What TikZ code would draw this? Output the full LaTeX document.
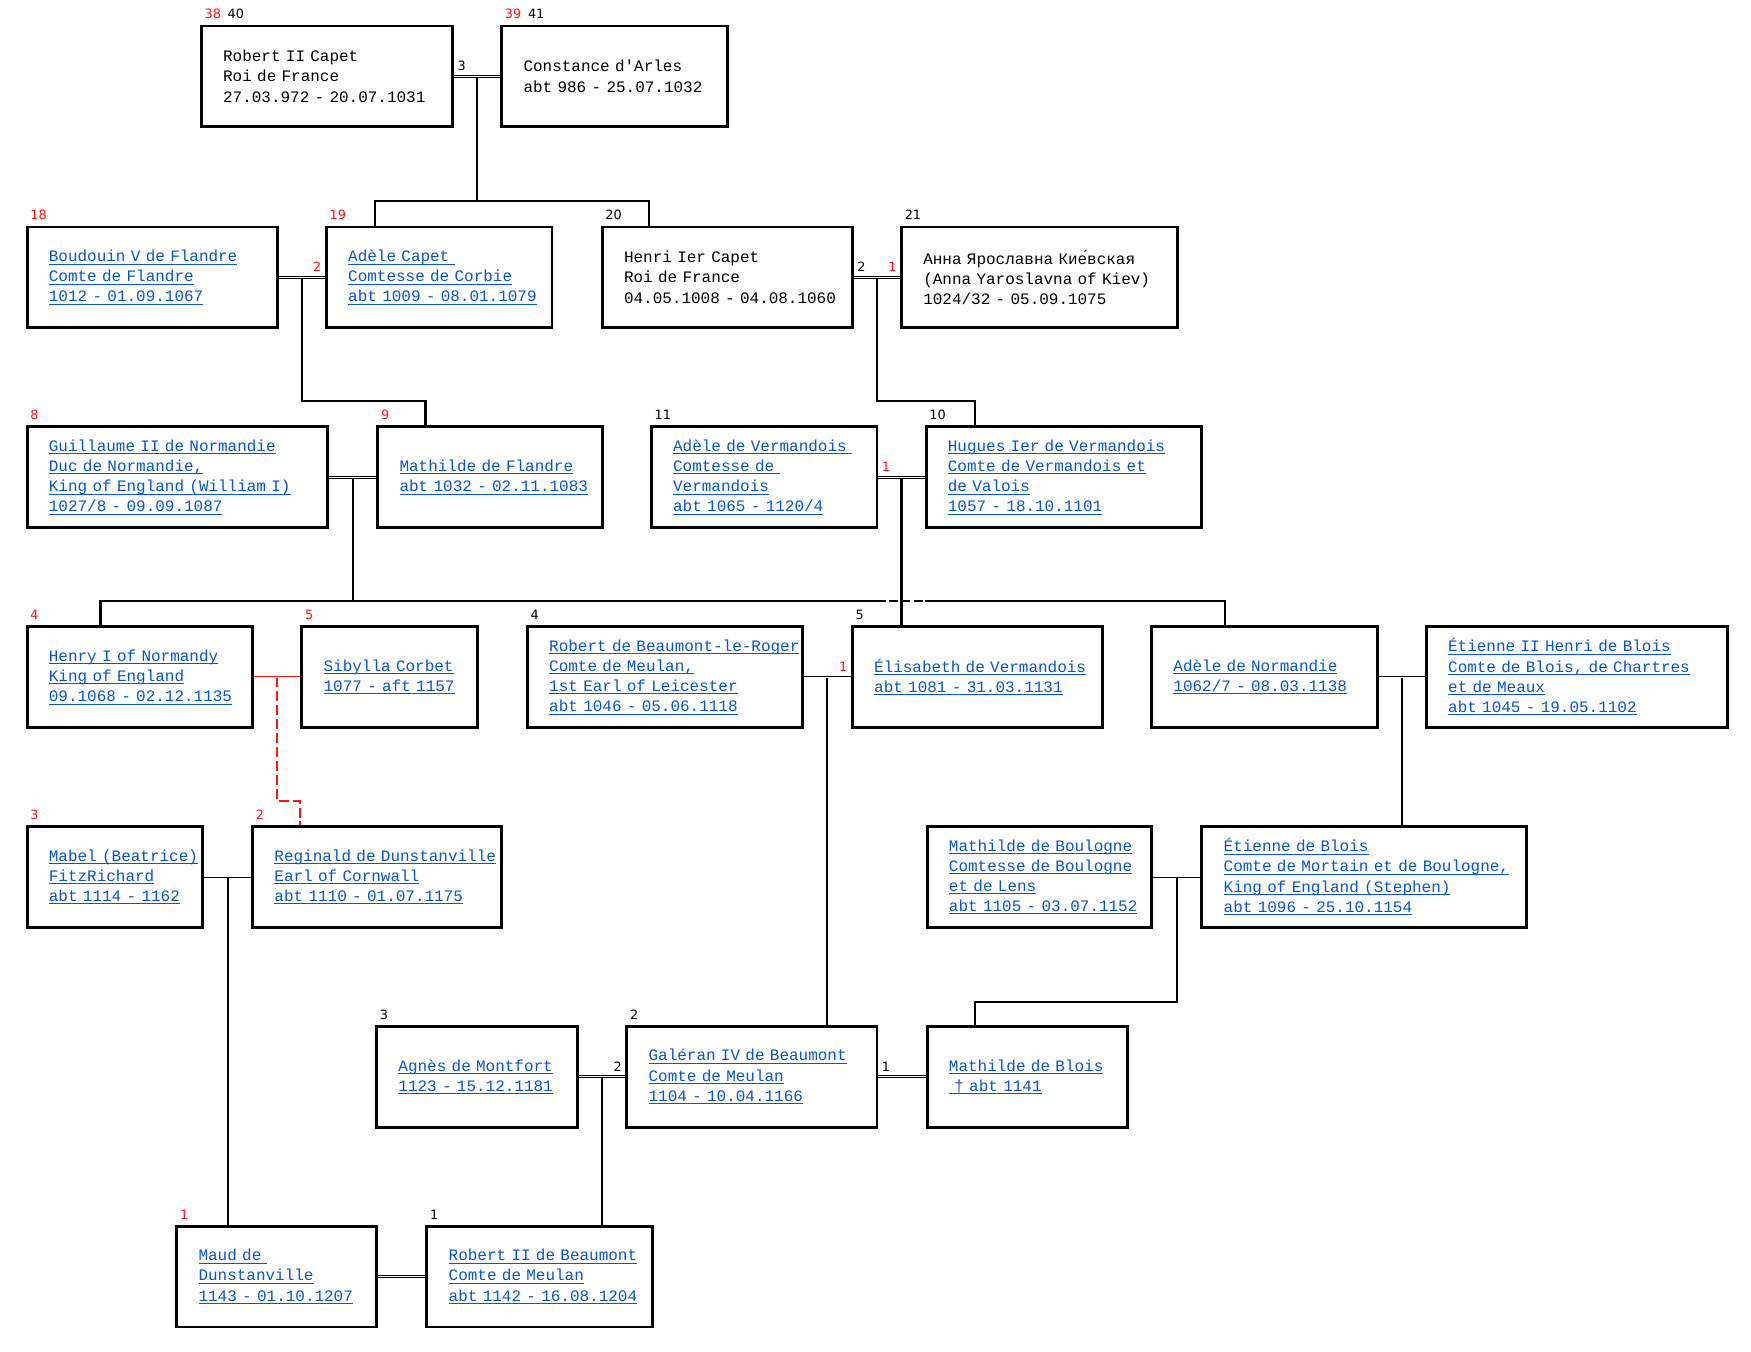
\documentclass[tikz,border=0pt]{standalone}
\usepackage{fontspec}
\usepackage{xcolor}
\usetikzlibrary{calc}
\newfontfamily\boxfont{Liberation Mono}
\newfontfamily\numfont{DejaVu Sans}
\definecolor{linkblue}{RGB}{10,85,200}
\definecolor{numred}{RGB}{255,20,20}
\newlength\lkwd
% underlined link line, kept on one line
\newcommand\lk[1]{\mbox{\settowidth\lkwd{#1}\rlap{\rule[-2.8pt]{\lkwd}{0.9pt}}#1}}
% plain line, kept on one line
\newcommand\pl[1]{\mbox{#1}}

\begin{document}
\begin{tikzpicture}[x=1pt,y=-1pt,
    pbox/.style={draw,line width=2.6pt,anchor=north west,minimum height=90pt,
      inner xsep=19.5pt,inner ysep=0pt,align=left,
      font=\boxfont\fontsize{14.3}{18}\selectfont},
    lbox/.style={pbox,text=linkblue},
    wed/.style={double,double distance=0.9pt,line width=0.8pt},
    kid/.style={line width=1.9pt},
    num/.style={inner sep=0pt,font=\numfont\fontsize{11.5}{13}\selectfont}]
  \useasboundingbox[fill=white] (0,0) rectangle (1568,1210);

  % generation 1
  \node[pbox,text width=186pt] (robert) at (179,22) {\pl{Robert II Capet}\\\pl{Roi de France}\\\pl{27.03.972 - 20.07.1031}};
  \node[pbox,text width=163pt] (constance) at (448,22) {\pl{Constance d'Arles}\\\pl{abt 986 - 25.07.1032}};
  % generation 2
  \node[lbox,text width=185pt] (boudouin) at (23,202) {\lk{Boudouin V de Flandre}\\\lk{Comte de Flandre}\\\lk{1012 - 01.09.1067}};
  \node[lbox,text width=163pt] (adelecap) at (291,202) {\lk{Adèle Capet\ }\\\lk{Comtesse de Corbie}\\\lk{abt 1009 - 08.01.1079}};
  \node[pbox,text width=185pt] (henri) at (538,202) {\pl{Henri Ier Capet}\\\pl{Roi de France}\\\pl{04.05.1008 - 04.08.1060}};
  \node[pbox,text width=208pt] (anna) at (806,202) {\pl{Анна Ярославна Кие́вская}\\\pl{(Anna Yaroslavna of Kiev)}\\\pl{1024/32 - 05.09.1075}};
  % generation 3
  \node[lbox,text width=230pt] (guillaume) at (23,381) {\lk{Guillaume II de Normandie}\\\lk{Duc de Normandie,}\\\lk{King of England (William I)}\\\lk{1027/8 - 09.09.1087}};
  \node[lbox,text width=162pt] (mathflan) at (337,381) {\lk{Mathilde de Flandre}\\\lk{abt 1032 - 02.11.1083}};
  \node[lbox,text width=163pt] (adelever) at (582,381) {\lk{Adèle de Vermandois\ }\\\lk{Comtesse de\ }\\\lk{Vermandois}\\\lk{abt 1065 - 1120/4}};
  \node[lbox,text width=208pt] (hugues) at (828,381) {\lk{Hugues Ier de Vermandois}\\\lk{Comte de Vermandois et}\\\lk{de Valois}\\\lk{1057 - 18.10.1101}};
  % generation 4
  \node[lbox,text width=163pt] (henry) at (23,560) {\lk{Henry I of Normandy}\\\lk{King of England}\\\lk{09.1068 - 02.12.1135}};
  \node[lbox,text width=118pt] (sibylla) at (269,560) {\lk{Sibylla Corbet}\\\lk{1077 - aft 1157}};
  \node[lbox,text width=207pt] (robbeau) at (471,560) {\lk{Robert de Beaumont-le-Roger}\\\lk{Comte de Meulan,}\\\lk{1st Earl of Leicester}\\\lk{abt 1046 - 05.06.1118}};
  \node[lbox,text width=185pt] (elisabeth) at (762,560) {\lk{Élisabeth de Vermandois}\\\lk{abt 1081 - 31.03.1131}};
  \node[lbox,text width=163pt] (adelenor) at (1030,560) {\lk{Adèle de Normandie}\\\lk{1062/7 - 08.03.1138}};
  \node[lbox,text width=231pt] (etienne2) at (1276,560) {\lk{Étienne II Henri de Blois}\\\lk{Comte de Blois, de Chartres}\\\lk{et de Meaux}\\\lk{abt 1045 - 19.05.1102}};
  % generation 5
  \node[lbox,text width=118pt] (mabel) at (23,739) {\lk{Mabel (Beatrice)}\\\lk{FitzRichard}\\\lk{abt 1114 - 1162}};
  \node[lbox,text width=184pt] (reginald) at (225,739) {\lk{Reginald de Dunstanville}\\\lk{Earl of Cornwall}\\\lk{abt 1110 - 01.07.1175}};
  \node[lbox,text width=162pt] (mathboul) at (829,739) {\lk{Mathilde de Boulogne}\\\lk{Comtesse de Boulogne}\\\lk{et de Lens}\\\lk{abt 1105 - 03.07.1152}};
  \node[lbox,text width=252pt] (etienne) at (1075,739) {\lk{Étienne de Blois}\\\lk{Comte de Mortain et de Boulogne,}\\\lk{King of England (Stephen)}\\\lk{abt 1096 - 25.10.1154}};
  % generation 6
  \node[lbox,text width=141pt] (agnes) at (336,918) {\lk{Agnès de Montfort}\\\lk{1123 - 15.12.1181}};
  \node[lbox,text width=185pt] (galeran) at (560,918) {\lk{Galéran IV de Beaumont}\\\lk{Comte de Meulan}\\\lk{1104 - 10.04.1166}};
  \node[lbox,text width=140pt] (mathblois) at (829,918) {\lk{Mathilde de Blois}\\\lk{\ † abt 1141}};
  % generation 7
  \node[lbox,text width=140pt] (maud) at (157,1097) {\lk{Maud de\ }\\\lk{Dunstanville}\\\lk{1143 - 01.10.1207}};
  \node[lbox,text width=163pt] (robert2) at (381,1097) {\lk{Robert II de Beaumont}\\\lk{Comte de Meulan}\\\lk{abt 1142 - 16.08.1204}};

  % numbers above the boxes
  \node[num,anchor=south west] (n-robert) at ([xshift=4pt,yshift=5pt]robert.north west) {\textcolor{numred}{38}\hspace{6pt}40};
  \node[num,anchor=south west] (n-constance) at ([xshift=4pt,yshift=5pt]constance.north west) {\textcolor{numred}{39}\hspace{6pt}41};
  \foreach \b/\n in {boudouin/18,adelecap/19,guillaume/8,mathflan/9,henry/4,sibylla/5,mabel/3,reginald/2,maud/1}
    \node[num,anchor=south west,text=numred] (n-\b) at ([xshift=4pt,yshift=5pt]\b.north west) {\n};
  \foreach \b/\n in {henri/20,anna/21,adelever/11,hugues/10,robbeau/4,elisabeth/5,agnes/3,galeran/2,robert2/1}
    \node[num,anchor=south west] (n-\b) at ([xshift=4pt,yshift=5pt]\b.north west) {\n};

  % marriage numbers
  \node[num,anchor=south west] (w-robert) at ([xshift=3pt,yshift=5pt]robert.east) {3};
  \node[num,anchor=south east,text=numred] (w-adelecap) at ([xshift=-3pt,yshift=5pt]adelecap.west) {2};
  \node[num,anchor=south west] (w-henri) at ([xshift=3pt,yshift=5pt]henri.east) {2};
  \node[num,anchor=south east,text=numred] (w-anna) at ([xshift=-3pt,yshift=5pt]anna.west) {1};
  \node[num,anchor=south west,text=numred] (w-adelever) at ([xshift=3pt,yshift=5pt]adelever.east) {1};
  \node[num,anchor=south east,text=numred] (w-elisabeth) at ([xshift=-3pt,yshift=5pt]elisabeth.west) {1};
  \node[num,anchor=south east] (w-galeran) at ([xshift=-3pt,yshift=5pt]galeran.west) {2};
  \node[num,anchor=south west] (w-galeran2) at ([xshift=3pt,yshift=5pt]galeran.east) {1};

  % marriage midpoints
  \coordinate (mRC) at ($(robert.east)!.5!(constance.west)$);
  \coordinate (mBA) at ($(boudouin.east)!.5!(adelecap.west)$);
  \coordinate (mHA) at ($(henri.east)!.5!(anna.west)$);
  \coordinate (mGM) at ($(guillaume.east)!.5!(mathflan.west)$);
  \coordinate (mAH) at ($(adelever.east)!.5!(hugues.west)$);
  \coordinate (mHS) at ($(henry.east)!.5!(sibylla.west)$);
  \coordinate (mRE) at ($(robbeau.east)!.5!(elisabeth.west)$);
  \coordinate (mAE) at ($(adelenor.east)!.5!(etienne2.west)$);
  \coordinate (mMR) at ($(mabel.east)!.5!(reginald.west)$);
  \coordinate (mME) at ($(mathboul.east)!.5!(etienne.west)$);
  \coordinate (mAG) at ($(agnes.east)!.5!(galeran.west)$);

  % children
  \draw[kid] (mRC) -- ++(0,112) coordinate (jRC);
  \draw[kid] ([xshift=45pt]adelecap.north west) |- (jRC) -| ([xshift=43pt]henri.north west);
  \draw[kid] (mBA) -- ++(0,111) -| ([xshift=44pt]mathflan.north west);
  \draw[kid] (mHA) -- ++(0,111) -| ([xshift=45pt]hugues.north west);
  \draw[kid] (mGM) -- ++(0,111) coordinate (jGM);
  \coordinate (gapL) at ([xshift=-14pt]jGM -| mAH);
  \coordinate (gapR) at ([xshift=21pt]jGM -| mAH);
  \draw[kid] ([xshift=67pt]henry.north west) |- (jGM) -- (gapL);
  \draw[kid,dash pattern=on 8pt off 3pt,dash phase=8pt] (gapL) -- (gapR);
  \draw[kid] (gapR) -| ([xshift=67pt]adelenor.north west);
  \draw[kid] (mAH) -- (mAH |- elisabeth.north);
  \draw[kid,numred,dash pattern=on 9pt off 3.5pt] (mHS) -- ++(0,111) -| ([xshift=44pt]reginald.north west);
  \draw[kid] (mRE) -- (mRE |- galeran.north);
  \draw[kid] (mAE) -- (mAE |- etienne.north);
  \draw[kid] (mMR) -- (mMR |- maud.north);
  \draw[kid] (mME) -- ++(0,112) -| ([xshift=44pt]mathblois.north west);
  \draw[kid] (mAG) -- (mAG |- robert2.north);

  % marriages
  \draw[wed] (robert.east) -- (constance.west);
  \draw[wed] (boudouin.east) -- (adelecap.west);
  \draw[wed] (henri.east) -- (anna.west);
  \draw[wed] (guillaume.east) -- (mathflan.west);
  \draw[wed] (adelever.east) -- (hugues.west);
  \draw[wed,draw=numred] (henry.east) -- (sibylla.west);
  \draw[wed] (robbeau.east) -- (elisabeth.west);
  \draw[wed] (adelenor.east) -- (etienne2.west);
  \draw[wed] (mabel.east) -- (reginald.west);
  \draw[wed] (mathboul.east) -- (etienne.west);
  \draw[wed] (agnes.east) -- (galeran.west);
  \draw[wed] (galeran.east) -- (mathblois.west);
  \draw[wed] (maud.east) -- (robert2.west);
\end{tikzpicture}
\end{document}
